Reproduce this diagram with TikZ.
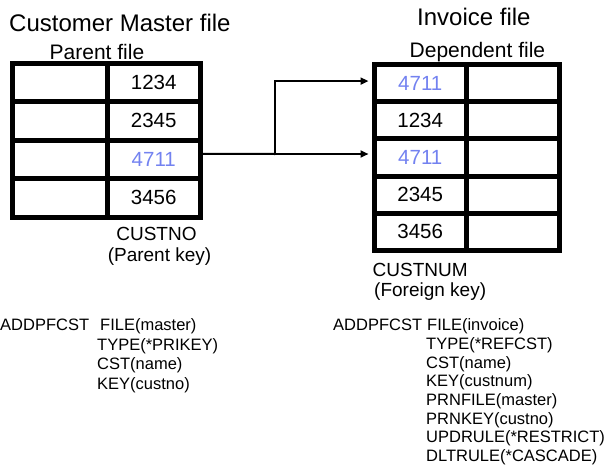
\documentclass[tikz,border=0pt]{standalone}
\usepackage{fontspec}
\setmainfont{Liberation Sans}
\usetikzlibrary{arrows.meta}
\definecolor{keyblue}{RGB}{115,130,240}
\tikzset{
  cell/.style={draw, line width=5pt, inner sep=0pt, outer sep=0pt,
    font=\fontsize{20.5}{24}\selectfont},
  lcell/.style={cell, minimum width=94.5pt, minimum height=38.5pt},
  rcell/.style={cell, minimum width=92.5pt, minimum height=37.2pt},
  key/.style={text=keyblue},
  title/.style={inner sep=0pt, anchor=base west, font=\fontsize{24}{28}\selectfont},
  subtitle/.style={inner sep=0pt, anchor=base west, font=\fontsize{21}{25}\selectfont},
  caption/.style={inner sep=0pt, anchor=base, font=\fontsize{19}{23}\selectfont},
  cmd/.style={inner sep=0pt, anchor=base west, font=\fontsize{16.5}{19}\selectfont},
  link/.style={line width=2pt},
  arrowlink/.style={link, -{Triangle[length=8pt,width=7pt]}, shorten >=5.5pt},
}
\begin{document}
\begin{tikzpicture}[x=1pt,y=-1pt]
\useasboundingbox (0,0) rectangle (613,474);

% headings
\node[title] (mtitle) at (9,31.7) {Customer Master file};
\node[subtitle] (msub) at (49.5,59.3) {Parent file};
\node[title] (ititle) at (417,25) {Invoice file};
\node[subtitle] (isub) at (409.5,57.3) {Dependent file};

% parent file (customer master)
\foreach \i/\y/\v/\s in {1/82.25/1234/, 2/120.75/2345/, 3/159.25/4711/key, 4/197.75/3456/} {
  \node[lcell] (L\i a) at (59.75,\y) {};
  \node[lcell, minimum width=93.5pt, \s] (L\i b) at (153.75,\y) {\v};
}

% dependent file (invoice)
\foreach \i/\y/\v/\s in {1/83.1/4711/key, 2/120.3/1234/, 3/157.5/4711/key, 4/194.7/2345/, 5/231.9/3456/} {
  \node[rcell, \s] (R\i a) at (420.25,\y) {\v};
  \node[rcell, minimum width=93pt] (R\i b) at (513,\y) {};
}

% key captions
\node[caption] (pkey1) at (156.5,240) {CUSTNO};
\node[caption] (pkey2) at (159.5,261) {(Parent key)};
\node[caption, anchor=base west] (fkey1) at (372.5,276) {CUSTNUM};
\node[caption, anchor=base west] (fkey2) at (374,296) {(Foreign key)};

% referential links
\coordinate (src) at ([yshift=5.5pt]L3b.east);
\coordinate (fork) at (275,154);
\draw[link] (src) -- (fork);
\draw[arrowlink] (fork) -- (fork -| R3a.west);
\draw[arrowlink] (fork) |- ([yshift=2pt]R1a.west);

% constraint commands
\node[cmd] (c1a) at (0,330) {ADDPFCST};
\node[cmd] (c1b) at (100,330) {FILE(master)};
\node[cmd] (c1c) at (97,350) {TYPE(*PRIKEY)};
\node[cmd] (c1d) at (97,369.5) {CST(name)};
\node[cmd] (c1e) at (97,389) {KEY(custno)};

\node[cmd] (c2a) at (333,330.7) {ADDPFCST};
\node[cmd] (c2b) at (427,330.7) {FILE(invoice)};
\node[cmd] (c2c) at (426,349.4) {TYPE(*REFCST)};
\node[cmd] (c2d) at (426,368.1) {CST(name)};
\node[cmd] (c2e) at (426,386.8) {KEY(custnum)};
\node[cmd] (c2f) at (426,405.5) {PRNFILE(master)};
\node[cmd] (c2g) at (426,424.2) {PRNKEY(custno)};
\node[cmd] (c2h) at (426,442.9) {UPDRULE(*RESTRICT)};
\node[cmd] (c2i) at (426,461.7) {DLTRULE(*CASCADE)};
\end{tikzpicture}
\end{document}
